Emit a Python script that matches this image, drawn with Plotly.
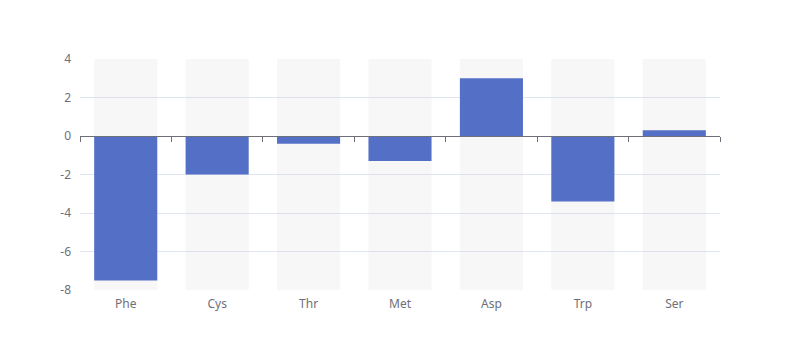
import plotly.graph_objects as go

categories = ["Phe", "Cys", "Thr", "Met", "Asp", "Trp", "Ser"]
values = [-7.5, -2.0, -0.4, -1.3, 3.0, -3.4, 0.3]
y_min, y_max = -8, 4
y_ticks = [-8, -6, -4, -2, 0, 2, 4]
y_tick_labels = ["-8", "-6", "-4", "-2", "0", "2", "4"]

axis_color = "#6E7079"
grid_color = "#E0E6F1"
bar_color = "#5470C6"
font_family = "Noto Sans, sans-serif"

fig = go.Figure()
# background bars spanning the full value axis
fig.add_trace(go.Bar(
    x=categories, y=[y_max - y_min] * len(categories), base=[y_min] * len(categories),
    marker=dict(color="rgba(180,180,180,0.11)", line=dict(width=0)),
    width=0.69, hoverinfo="skip", showlegend=False,
))
fig.add_trace(go.Bar(
    x=categories, y=values, xaxis="x2",
    marker=dict(color=bar_color, line=dict(width=0)),
    width=0.69, showlegend=False,
))

fig.update_layout(
    width=800, height=360,
    margin=dict(l=72, r=88, t=51, b=78),
    paper_bgcolor="white", plot_bgcolor="white",
    font=dict(family=font_family, size=12, color=axis_color),
    barmode="overlay",
    xaxis=dict(
        type="category", categoryorder="array", categoryarray=categories,
        range=[-0.5, len(categories) - 0.5],
        showline=False, showgrid=False, zeroline=False, ticks="",
        ticklabelstandoff=5,
        tickfont=dict(size=12, color=axis_color),
    ),
    xaxis2=dict(
        type="category", categoryorder="array", categoryarray=categories,
        range=[-0.5, len(categories) - 0.5],
        overlaying="x", anchor="free",
        position=(0 - y_min) / (y_max - y_min),
        showline=True, linecolor=axis_color, linewidth=1,
        ticks="outside", tickson="boundaries", ticklen=5, tickcolor=axis_color, tickwidth=1,
        showticklabels=False, showgrid=False, zeroline=False,
    ),
    yaxis=dict(
        range=[y_min, y_max], tickvals=y_ticks, ticktext=y_tick_labels,
        showgrid=True, gridcolor=grid_color, gridwidth=1,
        zeroline=False, showline=False, ticks="",
        ticklabelstandoff=8,
        tickfont=dict(size=12, color=axis_color),
    ),
)

fig.write_html("out.html")
